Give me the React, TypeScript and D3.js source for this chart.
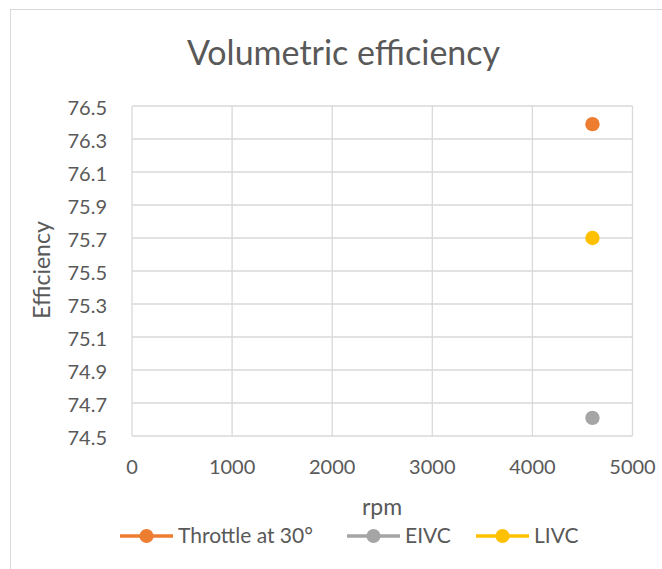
import React from "react";
import * as d3 from "d3";

const seriesNames = ["Throttle at 30°", "EIVC", "LIVC"];
const seriesColors = ["#ED7D31", "#A5A5A5", "#FFC000"];
const rpmValues = [4600, 4600, 4600];
const efficiencyValues = [76.39, 74.61, 75.7];
const xTicks = [0, 1000, 2000, 3000, 4000, 5000];
const yTicks = [74.5, 74.7, 74.9, 75.1, 75.3, 75.5, 75.7, 75.9, 76.1, 76.3, 76.5];

export default function App() {
  const W = 662, H = 569;
  const left = 132, right = 632.5, top = 106, bottom = 436;
  const x = d3.scaleLinear().domain([0, 5000]).range([left, right]);
  const y = d3.scaleLinear().domain([74.5, 76.5]).range([bottom, top]);
  const font = "Lato, 'Open Sans', sans-serif";
  const textColor = "#595959";
  const grid = "#d9d9d9";
  const legendY = 536;
  const legendItems = [
    { x0: 120, tx: 178 },
    { x0: 347, tx: 405 },
    { x0: 476, tx: 534 },
  ];
  return (
    <svg width={W} height={H} style={{ position: "absolute", left: 0, top: 0 }} fontFamily={font}>
      <rect x={0} y={0} width={W} height={H} fill="#fff" />
      <rect x={10.5} y={9.5} width={W + 10} height={H + 10} fill="none" stroke={grid} strokeWidth={1} />
      <text x={343.5} y={65} textAnchor="middle" fontSize={34} fill={textColor}>Volumetric efficiency</text>
      {yTicks.map((t) => (
        <line key={"y" + t} x1={left} x2={right} y1={y(t)} y2={y(t)} stroke={grid} strokeWidth={1.3} />
      ))}
      {xTicks.map((t) => (
        <line key={"x" + t} x1={x(t)} x2={x(t)} y1={top} y2={bottom} stroke={grid} strokeWidth={1.3} />
      ))}
      {yTicks.map((t) => (
        <text key={"yl" + t} x={107} y={y(t) + 2} dy="0.35em" textAnchor="end" fontSize={20} fill={textColor}>{t.toFixed(1)}</text>
      ))}
      {xTicks.map((t) => (
        <text key={"xl" + t} x={x(t)} y={474} textAnchor="middle" fontSize={20} fill={textColor}>{t}</text>
      ))}
      <text x={382} y={515} textAnchor="middle" fontSize={23} fill={textColor}>rpm</text>
      <text transform={`translate(50,270) rotate(-90)`} textAnchor="middle" fontSize={23} fill={textColor}>Efficiency</text>
      {seriesNames.map((n, i) => (
        <circle key={"pt" + n} cx={x(rpmValues[i])} cy={y(efficiencyValues[i])} r={7.2} fill={seriesColors[i]} />
      ))}
      {seriesNames.map((n, i) => (
        <g key={"lg" + n}>
          <line x1={legendItems[i].x0} x2={legendItems[i].x0 + 53} y1={legendY} y2={legendY} stroke={seriesColors[i]} strokeWidth={3.5} />
          <circle cx={legendItems[i].x0 + 26.5} cy={legendY} r={7} fill={seriesColors[i]} />
          <text x={legendItems[i].tx} y={legendY} dy="0.35em" fontSize={21} fill={textColor}>{n}</text>
        </g>
      ))}
    </svg>
  );
}
